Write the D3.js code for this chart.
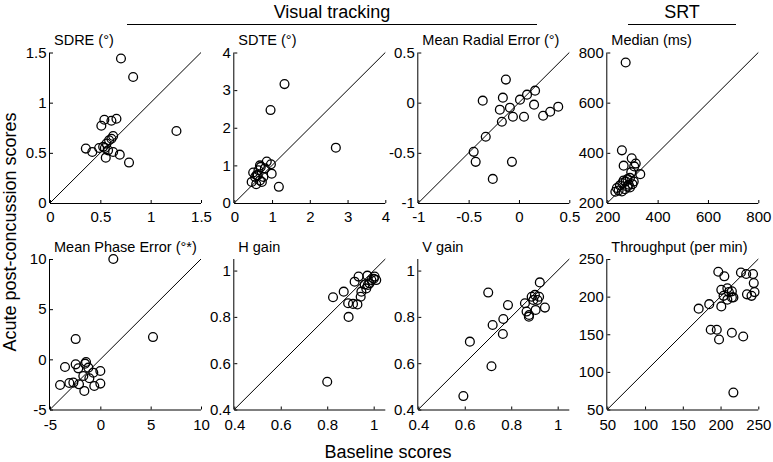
<!DOCTYPE html>
<html><head><meta charset="utf-8">
<script src="https://cdn.jsdelivr.net/npm/d3@7"></script>
<style>body{margin:0;background:#fff}svg{display:block}text{font-family:"Liberation Sans",Arial,Helvetica,sans-serif;fill:#000}</style>
</head><body><svg id="c" width="773" height="462"></svg>
<script>
// ---- data (baseline x, acute post-concussion y) ----
const sdreBase = [0.705,0.826,1.256,0.51,0.54,0.61,0.66,0.627,0.61,0.587,0.561,0.356,0.42,0.488,0.545,0.577,0.627,0.693,0.554,0.785,0.528];
const sdrePost = [1.44,1.256,0.718,0.77,0.83,0.82,0.84,0.668,0.64,0.625,0.592,0.542,0.508,0.548,0.548,0.525,0.508,0.482,0.452,0.403,0.56];
const sdteBase = [1.33,0.96,2.69,1.18,0.99,0.86,0.97,0.70,0.46,0.58,0.50,0.59,0.68,0.73,0.64,0.77,0.55,0.81,0.68,0.62];
const sdtePost = [3.16,2.47,1.47,0.43,0.78,1.10,1.03,0.96,0.56,0.50,0.81,0.74,0.60,0.56,0.87,0.69,0.69,0.92,1.00,0.74];
const mreBase = [-0.13,-0.36,-0.16,0.01,0.08,0.16,-0.19,-0.09,-0.06,-0.17,0.05,0.15,0.24,0.31,0.39,-0.33,-0.45,-0.43,-0.07,-0.26];
const mrePost = [0.23,0.02,0.05,0.03,0.08,0.12,-0.07,-0.05,-0.14,-0.19,-0.14,-0.02,-0.13,-0.09,-0.04,-0.34,-0.49,-0.59,-0.59,-0.76];
const srtBase = [273,258,265,297,313,307,331,295,273,280,290,305,285,260,250,238,232,245,258,270,290,300,265,280];
const srtPost = [760,410,349,378,357,346,315,323,286,295,300,286,273,280,270,260,245,250,246,255,262,275,290,265];
const mpeBase = [1.29,-2.45,5.23,-3.51,-4.0,-3.08,-2.45,-2.19,-1.52,-1.42,-1.19,-0.7,0,-1.69,-1.09,-2.12,-0.6,0,-1.59,-2.68];
const mpePost = [10.0,2.02,2.22,-0.76,-2.56,-2.36,-0.5,-0.9,-0.43,-0.27,-0.83,-1.33,-1.16,-1.66,-1.89,-2.49,-2.66,-2.42,-3.15,-2.32];
const hgBase = [0.80,0.892,0.825,0.871,0.89,0.911,0.93,0.918,0.935,0.973,1.004,1.011,0.99,0.961,0.975,0.947,0.944,0.968,0.982,1.0];
const hgPost = [0.52,0.80,0.885,0.909,0.859,0.856,0.854,0.952,0.974,0.978,0.974,0.959,0.959,0.94,0.938,0.909,0.887,0.923,0.945,0.965];
const vgBase = [0.594,0.622,0.715,0.701,0.72,0.766,0.764,0.786,0.859,0.866,0.877,0.905,0.888,0.902,0.92,0.923,0.913,0.945,0.895,0.876];
const vgPost = [0.458,0.693,0.587,0.905,0.765,0.791,0.726,0.851,0.859,0.823,0.808,0.83,0.887,0.895,0.887,0.949,0.873,0.84,0.873,0.801];
const tpBase = [217,171,185,187,195,198,215,230,197,205,201,201,209,204,211,215,217,209,227,234,243,244,245,235,241,215];
const tpPost = [72.5,184,190,156,156,143,152,147,233,227,187,209,211,201,206,199,199,196,232,230,230,218,206,203,201,207];

const titles = ["SDRE (°)","SDTE (°)","Mean Radial Error (°)","Median (ms)","Mean Phase Error (°*)","H gain","V gain","Throughput (per min)"];
const domains = [[0,1.5],[0,4],[-1,0.5],[200,800],[-5,10],[0.4,1.05],[0.4,1.05],[50,250]];
const tickSets = [[0,0.5,1,1.5],[0,1,2,3,4],[-1,-0.5,0,0.5],[200,400,600,800],[-5,0,5,10],[0.4,0.6,0.8,1],[0.4,0.6,0.8,1],[50,100,150,200,250]];
const xs = [sdreBase,sdteBase,mreBase,srtBase,mpeBase,hgBase,vgBase,tpBase];
const ys = [sdrePost,sdtePost,mrePost,srtPost,mpePost,hgPost,vgPost,tpPost];
const groupLabels = ["Visual tracking","SRT"];
const xLabel = "Baseline scores", yLabel = "Acute post-concussion scores";

// ---- layout ----
const svg = d3.select("#c");
const colX = [50, 234.3, 418.3, 607.3], rowY = [52.5, 259];
const xPad = [8, 10];
const W = 151, H = 150.5;

titles.forEach((t,i)=>{
  const r = Math.floor(i/4), c = i%4;
  const g = svg.append("g").attr("transform",`translate(${colX[c]},${rowY[r]})`);
  const x = d3.scaleLinear().domain(domains[i]).range([0,W]);
  const y = d3.scaleLinear().domain(domains[i]).range([H,0]);
  const fmt = d=>String(d);
  const xa = g.append("g").attr("transform",`translate(0,${H})`)
    .call(d3.axisBottom(x).tickValues(tickSets[i]).tickFormat(fmt).tickSizeInner(-3).tickSizeOuter(0).tickPadding(xPad[r]));
  const ya = g.append("g")
    .call(d3.axisLeft(y).tickValues(tickSets[i]).tickFormat(fmt).tickSizeInner(-3).tickSizeOuter(0).tickPadding(3.5));
  [xa,ya].forEach(a=>{
    a.selectAll("text").style("font-size","15px").attr("fill","#000");
    a.selectAll("line,path").attr("stroke","#000").attr("stroke-width",1);
    a.select(".domain").attr("d", a===xa ? `M0,0.5H${W}` : `M-0.5,0V${H}`);
  });
  xa.selectAll(".tick text").attr("dy","0.71em");
  g.append("line").attr("x1",x(domains[i][0])).attr("y1",y(domains[i][0]))
    .attr("x2",x(domains[i][1])).attr("y2",y(domains[i][1])).attr("stroke","#000").attr("stroke-width",1);
  g.selectAll("circle.pt").data(d3.range(xs[i].length)).enter().append("circle")
    .attr("cx",k=>x(xs[i][k])).attr("cy",k=>y(ys[i][k])).attr("r",4.4)
    .attr("fill","none").attr("stroke","#000").attr("stroke-width",1.3);
  g.append("text").attr("x",4).attr("y",-7.5).style("font-size","14.5px").text(t);
});

// group headers
svg.append("text").attr("x",332).attr("y",18).attr("text-anchor","middle").style("font-size","18px").text(groupLabels[0]);
svg.append("line").attr("x1",127).attr("x2",537).attr("y1",24.5).attr("y2",24.5).attr("stroke","#000");
svg.append("text").attr("x",682).attr("y",18).attr("text-anchor","middle").style("font-size","18px").text(groupLabels[1]);
svg.append("line").attr("x1",628).attr("x2",736).attr("y1",24.5).attr("y2",24.5).attr("stroke","#000");
// axis labels
svg.append("text").attr("x",388).attr("y",458).attr("text-anchor","middle").style("font-size","18px").text(xLabel);
svg.append("text").attr("transform","translate(16,232) rotate(-90)").attr("text-anchor","middle").style("font-size","18px").text(yLabel);
</script></body></html>
